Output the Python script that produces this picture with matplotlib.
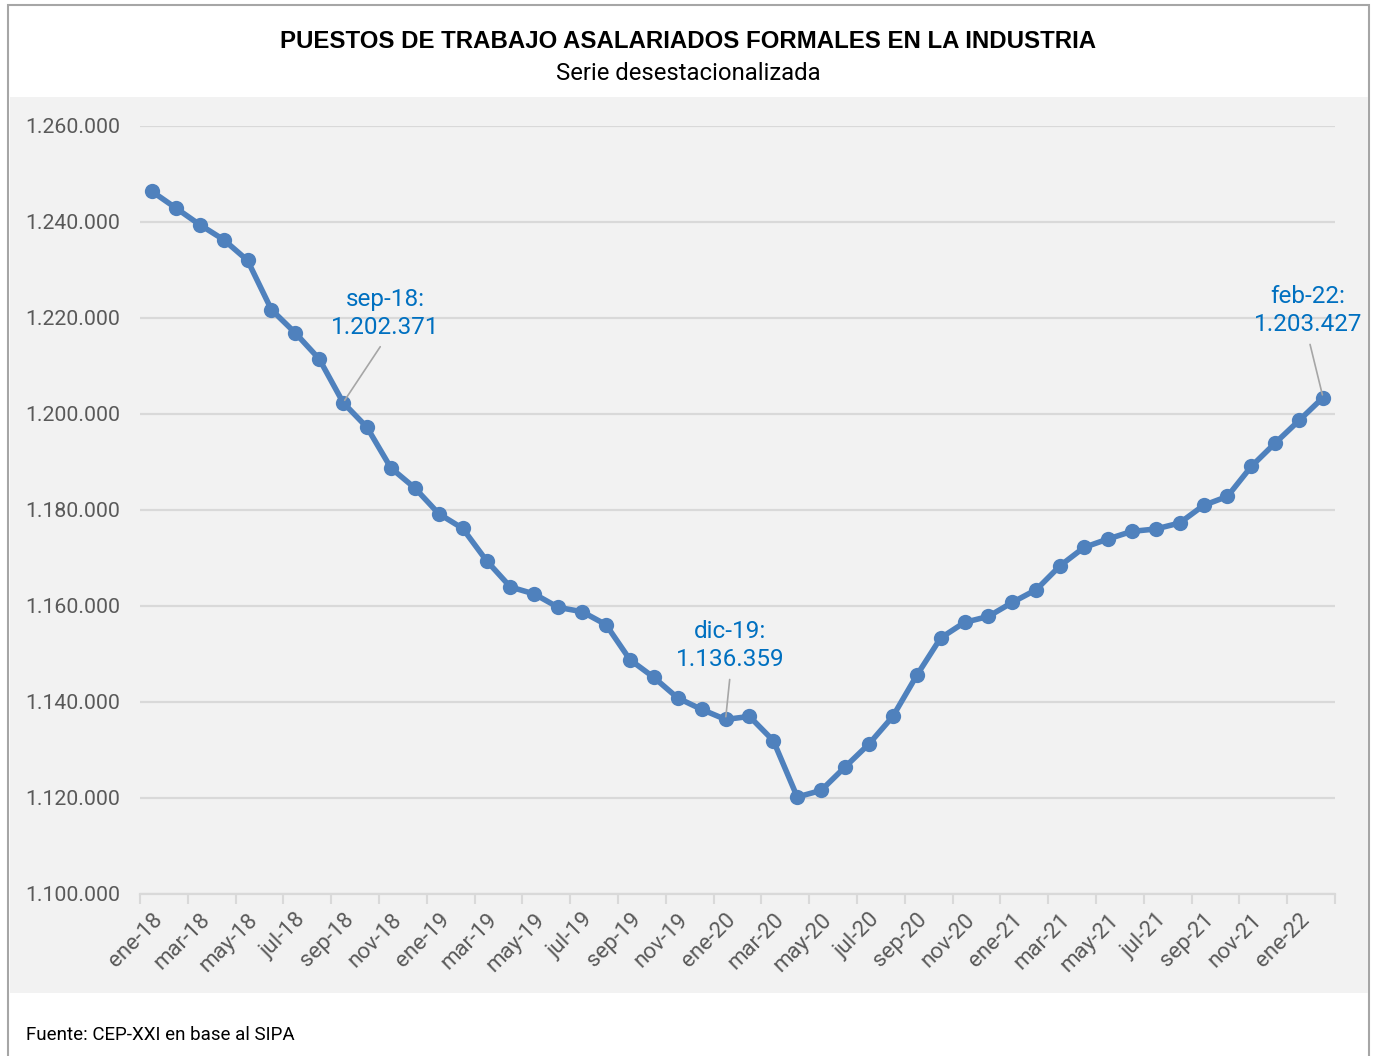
import matplotlib.pyplot as plt
from matplotlib.patches import Rectangle
from matplotlib.ticker import FuncFormatter, FixedLocator

# --- DATOS ---
meses = ["ene", "feb", "mar", "abr", "may", "jun", "jul", "ago", "sep", "oct", "nov", "dic"]
anios = ["18", "19", "20", "21", "22"]
n_meses = 50  # ene-18 a feb-22

puestos = [
    1246375, 1242917, 1239438, 1236313, 1232000, 1221729, 1216875, 1211458,
    1202371, 1197208, 1188750, 1184583, 1179229, 1176167, 1169437, 1163958,
    1162500, 1159708, 1158812, 1156104, 1148812, 1145125, 1140833, 1138458,
    1136359, 1137000, 1131937, 1120208, 1121583, 1126458, 1131250, 1137000,
    1145542, 1153333, 1156583, 1157833, 1160750, 1163396, 1168396, 1172208,
    1173958, 1175542, 1176042, 1177292, 1180958, 1182833, 1189083, 1193958,
    1198667, 1203427,
]

# anotaciones: (indice, texto, desplazamiento en pixeles)
anotaciones = [
    (8, "sep-18:\n1.202.371", (42, 89)),
    (24, "dic-19:\n1.136.359", (5, 74)),
    (49, "feb-22:\n1.203.427", (-15, 87)),
]

etiquetas = [f"{m}-{a}" for a in anios for m in meses][:n_meses]

AZUL = "#4F81BD"
AZUL_TXT = "#0070C0"
GRIS_GRID = "#D9D9D9"
GRIS_TXT = "#595959"
W, H = 1376, 1056


def miles(v, pos=None):
    return f"{v:,.0f}".replace(",", ".")


def graficar():
    plt.rcParams["font.family"] = ["Roboto", "DejaVu Sans"]
    fig = plt.figure(figsize=(W / 100, H / 100), dpi=100)
    fig.patch.set_facecolor("white")

    # marco exterior y fondo gris del area de grafico (detras de los ejes)
    fig.patches.append(Rectangle((8 / W, -0.05), (1369 - 8) / W, 1.05 - 5 / H,
                                 transform=fig.transFigure, fill=False,
                                 edgecolor="#A6A6A6", linewidth=1.5, zorder=-2))
    fig.patches.append(Rectangle((10 / W, 1 - 993 / H), (1368 - 10) / W, (993 - 97) / H,
                                 transform=fig.transFigure, facecolor="#F2F2F2",
                                 edgecolor="none", zorder=-1))

    # titulos
    fig.text(0.5, 1 - 41 / H, "PUESTOS DE TRABAJO ASALARIADOS FORMALES EN LA INDUSTRIA",
             ha="center", va="center", fontsize=17.3, fontweight="bold",
             family=["Liberation Sans", "DejaVu Sans"], color="black")
    fig.text(0.5, 1 - 74 / H, "Serie desestacionalizada", ha="center", va="center",
             fontsize=17.2, color="black")
    fig.text(26 / W, 1 - 1035 / H, "Fuente: CEP-XXI en base al SIPA", ha="left",
             va="center", fontsize=13.5, color="black")

    ax = fig.add_axes([140 / W, 1 - 894 / H, (1335 - 140) / W, (894 - 126) / H])
    ax.set_facecolor("none")

    x = list(range(n_meses))
    ax.plot(x, puestos, color=AZUL, linewidth=4, marker="o", markersize=11,
            markeredgewidth=0, zorder=3, clip_on=False)

    ax.set_xlim(-0.5, n_meses - 0.5)
    ax.set_ylim(1100000, 1260000)
    ax.set_yticks(range(1100000, 1260001, 20000))
    ax.yaxis.set_major_formatter(FuncFormatter(miles))
    ax.grid(axis="y", color=GRIS_GRID, linewidth=1.6, zorder=0)

    ax.set_xticks(x[::2])
    ax.set_xticklabels(etiquetas[::2], rotation=45, ha="right", rotation_mode="anchor")
    ax.xaxis.set_minor_locator(FixedLocator([i - 0.5 for i in range(0, n_meses + 1, 2)]))
    ax.tick_params(axis="x", which="major", length=0, pad=11, labelsize=16, labelcolor=GRIS_TXT)
    ax.tick_params(axis="x", which="minor", length=7, width=1.5, color=GRIS_GRID)
    ax.tick_params(axis="y", length=0, pad=14, labelsize=15.3, labelcolor=GRIS_TXT)

    for lado in ["top", "right", "left"]:
        ax.spines[lado].set_visible(False)
    ax.spines["bottom"].set_color(GRIS_GRID)
    ax.spines["bottom"].set_linewidth(1.6)

    for i, texto, (dx, dy) in anotaciones:
        ax.annotate(texto, xy=(i, puestos[i]), xytext=(dx, dy), textcoords="offset pixels",
                    ha="center", va="center", fontsize=17.5, color=AZUL_TXT,
                    linespacing=1.3, zorder=5,
                    arrowprops=dict(arrowstyle="-", color="#A6A6A6", lw=1.2,
                                    relpos=(0.5, 0), shrinkA=4, shrinkB=2))

    fig.savefig("out.png", dpi=100)


if __name__ == "__main__":
    graficar()
